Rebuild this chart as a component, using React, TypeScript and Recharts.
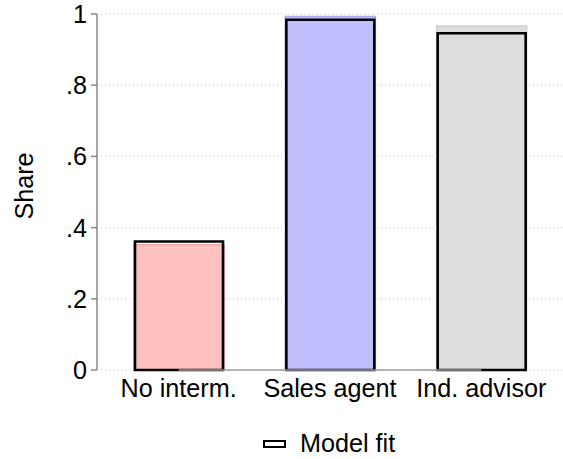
import React from 'react';
import {
  BarChart,
  Bar,
  XAxis,
  YAxis,
  CartesianGrid,
  Cell,
  Legend,
  ReferenceLine,
  Label,
} from 'recharts';

const categories = ['No interm.', 'Sales agent', 'Ind. advisor'];
const observedShare = [0.352, 0.993, 0.966];
const modelFit = [0.361, 0.984, 0.946];
const yTicks = [0, 0.2, 0.4, 0.6, 0.8, 1];
const fillColors = ['#FFC0C0', '#C0C0FF', '#DDDDDD'];
const edgeColors = ['#F2A4A4', '#A9A9F5', '#CFCFCF'];

const data = categories.map((c, i) => ({
  category: c,
  observed: observedShare[i],
  fit: modelFit[i],
}));

const FONT = '"Liberation Sans", Arial, Helvetica, sans-serif';
const FS = 25.2;

const fmtY = (v: number) => {
  if (v === 0) return '0';
  if (v === 1) return '1';
  return v.toFixed(1).replace(/^0/, '');
};

const LegendContent = () => (
  <div
    style={{
      height: 49,
      display: 'flex',
      alignItems: 'center',
      paddingLeft: 263,
      paddingTop: 18,
      boxSizing: 'border-box',
      fontFamily: FONT,
      fontSize: FS,
      color: '#000',
    }}
  >
    <svg width={23} height={8} style={{ marginRight: 14 }}>
      <rect x={1} y={1} width={21} height={6} fill="#fff" stroke="#000" strokeWidth={2} />
    </svg>
    <span>Model fit</span>
  </div>
);

export default function App() {
  return (
    <div style={{ position: 'absolute', left: 0, top: 0, width: 563, height: 459, background: '#fff' }}>
      <BarChart
        width={563}
        height={459}
        data={data}
        margin={{ top: 14, right: 0, bottom: 0, left: 0 }}
      >
        <CartesianGrid
          horizontal
          vertical={false}
          stroke="#c4c4c4"
          strokeDasharray="1 3"
          yAxisId="y"
          xAxisId="a"
        />
        <XAxis
          xAxisId="a"
          dataKey="category"
          axisLine={false}
          tickLine={false}
          tickSize={0}
          tickMargin={9}
          height={40}
          padding={{ left: 6, right: 6 }}
          tick={{ fill: '#000', fontSize: FS, fontFamily: FONT }}
          interval={0}
        />
        <XAxis
          xAxisId="b"
          dataKey="category"
          hide
          padding={{ left: 6, right: 6 }}
        />
        <YAxis
          yAxisId="y"
          width={97}
          domain={[0, 1]}
          ticks={yTicks}
          tickFormatter={fmtY}
          axisLine={{ stroke: '#8a8a8a', strokeWidth: 1.5 }}
          tickLine={{ stroke: '#8a8a8a', strokeWidth: 1.5 }}
          tickSize={6}
          tickMargin={4}
          tick={{ fill: '#000', fontSize: FS, fontFamily: FONT }}
          interval={0}
        >
          <Label
            content={() => (
              <text
                x={24}
                y={186}
                transform="rotate(-90, 24, 186)"
                textAnchor="middle"
                dominantBaseline="central"
                fontFamily={FONT}
                fontSize={FS}
                fill="#000"
              >
                Share
              </text>
            )}
          />
        </YAxis>
        <ReferenceLine
          xAxisId="a"
          yAxisId="y"
          segment={[
            { x: 'No interm.', y: 0 },
            { x: 'Ind. advisor', y: 0 },
          ]}
          stroke="#9a9a9a"
          strokeWidth={1.5}
        />
        <Bar
          xAxisId="a"
          yAxisId="y"
          dataKey="observed"
          name="Share"
          barSize={90}
          isAnimationActive={false}
          legendType="none"
        >
          {data.map((d, i) => (
            <Cell key={d.category} fill={fillColors[i]} stroke={edgeColors[i]} strokeWidth={1.5} />
          ))}
        </Bar>
        <Bar
          xAxisId="b"
          yAxisId="y"
          dataKey="fit"
          name="Model fit"
          barSize={88}
          fill="none"
          stroke="#000"
          strokeWidth={2.6}
          isAnimationActive={false}
        />
        <Legend verticalAlign="bottom" align="left" content={LegendContent} wrapperStyle={{ height: 49 }} />
      </BarChart>
    </div>
  );
}
